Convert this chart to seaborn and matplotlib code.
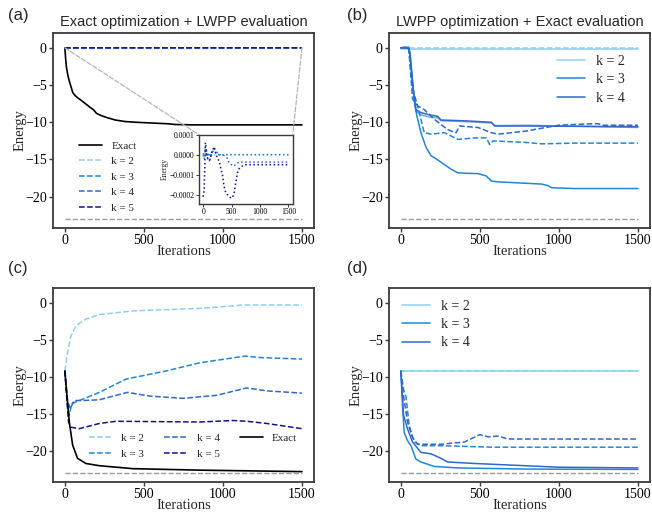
"""Energie-Verlauf: exakte vs. LWPP Optimierung/Evaluierung (vier Panels)."""
import numpy as np
import pandas as pd
import matplotlib
matplotlib.use("Agg")
import matplotlib.pyplot as plt
from matplotlib.patches import ConnectionPatch
from matplotlib.ticker import FuncFormatter
import seaborn as sns

# Farben pro k
C_K2 = "#8fd0f0"
C_K3 = "#1f88d6"
C_K4 = "#2f68cc"
C_K5 = "#14148c"
C_REF = "#9a9a9a"

E_GROUND = -23.0

# ---- Panel (a): exakte Optimierung + LWPP Evaluierung ----
a_it_exact = [0, 5, 10, 20, 30, 40, 50, 60, 80, 100, 130, 160, 180, 200, 230, 270,
              320, 380, 450, 550, 650, 700, 800, 1000, 1500]
a_exact = [0, -1.5, -2.6, -3.8, -4.6, -5.3, -6.0, -6.3, -6.7, -7.0, -7.5, -8.0, -8.3,
           -8.8, -9.1, -9.4, -9.7, -9.9, -10.0, -10.1, -10.2, -10.3, -10.35, -10.35, -10.35]

a_it = [0, 18, 40, 60, 80, 110, 125, 150, 193, 220, 250, 281, 310, 340, 369, 398,
        430, 457, 498, 515, 545, 574, 603, 633, 662, 750, 1000, 1500]
a_k2 = [-0.00001, 0.0, 0.0, 0.0, 0.0, 0.0, 0.0, 0.0, 0.0, 0.0, 0.0, 0.0, 0.0, 0.0,
        0.0, 0.0, 0.0, 0.0, 0.0, 0.0, 0.0, 0.0, 0.0, 0.0, 0.0, 0.0, 0.0, 0.0]
a_k3 = [0.0, -0.00002, 0.00001, 0.00002, -0.00001, 0.00001, -0.00001, 0.00001,
        0.00002, 0.00001, 0.0, 0.0, 0.0, 0.0, 0.0, 0.0, 0.0, 0.0, 0.0, 0.0, 0.0,
        0.0, 0.0, 0.0, 0.0, 0.0, 0.0, 0.0]
a_k4 = [0.0, 0.00001, 0.00003, 0.0, -0.00002, -0.00003, -0.00002, 0.00001, 0.00003,
        0.00002, 0.00001, 0.0, 0.0, 0.0, -0.000005, -0.00001, -0.00002, -0.00004,
        -0.00005, -0.000055, -0.000055, -0.00005, -0.000042, -0.000037, -0.000037,
        -0.000037, -0.000037, -0.000037]
a_k5 = [-0.00021, -0.00018, 0.00006, 0.00001, -0.00002, -0.00003, -0.00002, 0.00001,
        0.00004, 0.00001, -0.00002, -0.00003, -0.000067, -0.0001, -0.00016, -0.00019,
        -0.0002, -0.00021, -0.000217, -0.000215, -0.00019, -0.00014, -0.00009,
        -0.00007, -0.00006, -0.00005, -0.00005, -0.00005]

# ---- Panel (b): LWPP Optimierung + exakte Evaluierung ----
b_it_k2 = [0, 1500]
b_k2_solid = [-0.1, -0.1]
b_k2_dash = [0.0, 0.0]

b_it_k3s = [0, 30, 50, 60, 70, 85, 100, 127, 160, 191, 230, 270, 318, 361, 420, 488,
            540, 573, 615, 750, 891, 930, 955, 1100, 1500]
b_k3_solid = [0, 0, 0.1, -1.0, -3.5, -6.9, -9.0, -11.4, -13.4, -14.5, -15.0, -15.6,
              -16.3, -16.8, -16.85, -16.9, -17.2, -17.9, -18.0, -18.15, -18.3, -18.5,
              -18.8, -18.9, -18.9]

b_it_k4s = [0, 30, 53, 64, 74, 85, 95, 127, 180, 233, 254, 400, 573, 594, 800, 1500]
b_k4_solid = [0, 0.1, -0.2, -2.4, -4.7, -6.8, -8.3, -8.7, -9.0, -9.2, -9.7, -9.8,
              -10.0, -10.5, -10.5, -10.6]
b_k4_solid2 = [0, 0.1, -0.2, -2.4, -4.7, -6.8, -8.5, -9.0, -9.3, -9.4, -9.8, -9.9,
               -10.1, -10.45, -10.4, -10.7]

b_it_k3d = [0, 50, 74, 106, 148, 191, 276, 361, 467, 541, 562, 583, 785, 891, 1103, 1500]
b_k3_dash = [0, 0, -6.9, -7.8, -11.4, -11.6, -11.4, -12.3, -12.1, -12.1, -13.0, -12.5,
             -12.7, -12.9, -12.8, -12.8]
b_it_k4d = [0, 50, 74, 106, 148, 212, 297, 350, 371, 488, 573, 615, 785, 997, 1210,
            1252, 1273, 1500]
b_k4_dash = [0, 0, -5.5, -7.8, -8.3, -9.6, -11.0, -11.4, -10.5, -10.7, -11.4, -11.6,
             -11.2, -10.4, -10.2, -10.2, -10.4, -10.4]

# ---- Panel (c): LWPP Optimierung + LWPP Evaluierung ----
c_it_k2 = [0, 17, 38, 70, 133, 218, 430, 854, 1129, 1500]
c_k2 = [-9.2, -6.7, -4.5, -3.1, -2.2, -1.6, -1.1, -0.76, -0.3, -0.3]
c_it_k3 = [0, 17, 28, 44, 91, 218, 388, 642, 854, 1140, 1235, 1500]
c_k3 = [-9.2, -13.9, -15.2, -13.6, -13.2, -12.1, -10.3, -9.2, -8.1, -7.2, -7.4, -7.6]
c_it_k4 = [0, 17, 34, 59, 112, 218, 396, 536, 748, 960, 1150, 1278, 1500]
c_k4 = [-9.2, -13.2, -14.3, -13.2, -13.2, -13.1, -12.1, -12.6, -12.9, -12.5, -11.5,
        -11.9, -12.2]
c_it_k5 = [0, 23, 38, 91, 218, 324, 854, 1066, 1150, 1278, 1500]
c_k5 = [-9.2, -16.1, -16.8, -17.0, -16.3, -16.0, -16.1, -15.9, -16.0, -16.3, -17.0]
c_it_exact = [0, 13, 28, 49, 80, 133, 218, 430, 854, 1500]
c_exact = [-9.2, -12.5, -16.1, -19.2, -21.0, -21.7, -22.0, -22.4, -22.6, -22.8]

# ---- Panel (d) ----
d_it_k2 = [0, 1500]
d_k2 = [-9.2, -9.2]
d_it_k3s = [0, 11, 21, 42, 64, 95, 127, 212, 361, 785, 1500]
d_k3_solid = [-9.2, -13.9, -17.5, -18.6, -19.3, -21.1, -21.5, -22.1, -22.3, -22.45, -22.5]
d_it_k4s = [0, 17, 42, 74, 127, 191, 244, 297, 467, 785, 997, 1500]
d_k4_solid = [-9.2, -15.2, -17.0, -18.8, -20.2, -20.4, -20.9, -21.5, -21.7, -22.0, -22.2, -22.3]
d_it_k3d = [0, 17, 32, 53, 85, 127, 254, 573, 1500]
d_k3_dash = [-9.2, -11.7, -12.6, -16.6, -18.8, -19.3, -19.3, -19.5, -19.5]
d_it_k4d = [0, 11, 42, 74, 106, 254, 403, 499, 552, 615, 679, 1500]
d_k4_dash = [-9.2, -11.7, -16.1, -18.2, -19.1, -19.1, -18.8, -17.8, -18.1, -18.0, -18.4, -18.4]

ITER_RANGE = [0, 1500]

sns.set_style("ticks")
plt.rcParams["font.family"] = ["Liberation Serif", "DejaVu Serif"]
plt.rcParams["axes.unicode_minus"] = True
plt.rcParams["axes.edgecolor"] = "#3a3a3a"
plt.rcParams["axes.linewidth"] = 1.3
plt.rcParams["xtick.color"] = "#3a3a3a"
plt.rcParams["ytick.color"] = "#3a3a3a"
plt.rcParams["xtick.labelcolor"] = "black"
plt.rcParams["ytick.labelcolor"] = "black"

fig = plt.figure(figsize=(6.52, 5.12), dpi=100)
ax_a = fig.add_axes([0.0813, 0.5547, 0.400, 0.381])
ax_b = fig.add_axes([0.5966, 0.5547, 0.400, 0.381])
ax_c = fig.add_axes([0.0813, 0.0586, 0.400, 0.379])
ax_d = fig.add_axes([0.5966, 0.0586, 0.400, 0.379])


def line(ax, x, y, color, ls="-", label=None, lw=1.1, alpha=1.0):
    sns.lineplot(x=x, y=y, ax=ax, color=color, linestyle=ls, label=label,
                 linewidth=lw, alpha=alpha, legend=False, sort=False)


def ground(ax):
    line(ax, ITER_RANGE, [E_GROUND, E_GROUND], C_REF, "--", lw=1.0)


def style_axes(ax):
    ax.set_xlim(-75, 1575)
    ax.set_ylim(-24.2, 2)
    ax.set_xticks([0, 500, 1000, 1500])
    ax.set_yticks([0, -5, -10, -15, -20])
    ax.tick_params(labelsize=10, length=3, width=1.0, pad=1.5)
    ax.set_xlabel("Iterations", fontsize=10.5, labelpad=-1.5)
    ax.set_ylabel("Energy", fontsize=10.5, labelpad=-1)


# (a)
line(ax_a, a_it_exact, a_exact, "black", "-", "Exact", lw=1.2)
line(ax_a, a_it, a_k2, C_K2, "--", "k = 2")
line(ax_a, a_it, a_k3, C_K3, "--", "k = 3")
line(ax_a, a_it, a_k4, C_K4, "--", "k = 4")
line(ax_a, a_it, a_k5, C_K5, "--", "k = 5")
ground(ax_a)
style_axes(ax_a)
ax_a.set_title("Exact optimization + LWPP evaluation", fontsize=10.5,
               fontfamily="Liberation Sans", pad=5)
ax_a.legend(loc="upper left", bbox_to_anchor=(0.083, 0.47), borderaxespad=0,
            frameon=False, fontsize=8, handlelength=2.1, labelspacing=0.52)

axins = fig.add_axes([0.305, 0.602, 0.144, 0.135])
line(axins, a_it, a_k2, C_K2, ":", lw=1.1)
line(axins, a_it, a_k3, C_K3, ":", lw=1.1)
line(axins, a_it, a_k4, C_K4, ":", lw=1.1)
line(axins, a_it, a_k5, C_K5, ":", lw=1.1)
axins.set_xlim(-75, 1575)
axins.set_ylim(-0.000245, 0.0001)
axins.set_xticks([0, 500, 1000, 1500])
axins.set_yticks([0.0001, 0.0, -0.0001, -0.0002])
axins.yaxis.set_major_formatter(FuncFormatter(lambda v, p: f"{v:.4f}".replace("-", "\u2212")))
axins.tick_params(labelsize=5.5, length=2, width=0.7, pad=1)
axins.set_ylabel("Energy", fontsize=5.5, labelpad=1)
for sp in axins.spines.values():
    sp.set_linewidth(1.0)

for x_data, x_ins in [(ITER_RANGE[0], 0), (ITER_RANGE[1], 1)]:
    con = ConnectionPatch(xyA=(x_data, 0), coordsA=ax_a.transData,
                          xyB=(x_ins, 1), coordsB=axins.transAxes,
                          color="#b5b5b5", linestyle="--", linewidth=0.9)
    fig.add_artist(con)

# (b)
line(ax_b, b_it_k2, b_k2_dash, C_K2, "--")
line(ax_b, b_it_k2, b_k2_solid, C_K2, "-", "k = 2")
line(ax_b, b_it_k3s, b_k3_solid, C_K3, "-", "k = 3")
line(ax_b, b_it_k4s, b_k4_solid2, C_K4, "-", alpha=0.6)
line(ax_b, b_it_k4s, b_k4_solid, C_K4, "-", "k = 4")
line(ax_b, b_it_k3d, b_k3_dash, C_K3, "--")
line(ax_b, b_it_k4d, b_k4_dash, C_K4, "--")
ground(ax_b)
style_axes(ax_b)
ax_b.set_title("LWPP optimization + Exact evaluation", fontsize=10.5,
               fontfamily="Liberation Sans", pad=5)
ax_b.legend(loc="upper left", bbox_to_anchor=(0.624, 0.915), borderaxespad=0,
            frameon=False, fontsize=10, handlelength=2.0, labelspacing=0.38)

# (c)
line(ax_c, c_it_k2, c_k2, C_K2, "--", "k = 2")
line(ax_c, c_it_k3, c_k3, C_K3, "--", "k = 3")
line(ax_c, c_it_k4, c_k4, C_K4, "--", "k = 4")
line(ax_c, c_it_k5, c_k5, C_K5, "--", "k = 5")
line(ax_c, c_it_exact, c_exact, "black", "-", "Exact", lw=1.2)
ground(ax_c)
style_axes(ax_c)
ax_c.legend(loc="upper left", bbox_to_anchor=(0.122, 0.276), borderaxespad=0,
            frameon=False, ncol=3, fontsize=8, handlelength=2.1,
            labelspacing=0.55, columnspacing=1.8)

# (d)
line(ax_d, d_it_k2, d_k2, C_K2, "--")
line(ax_d, d_it_k2, d_k2, C_K2, "-", "k = 2")
line(ax_d, d_it_k3s, d_k3_solid, C_K3, "-", "k = 3")
line(ax_d, d_it_k4s, d_k4_solid, C_K4, "-", "k = 4")
line(ax_d, d_it_k3d, d_k3_dash, C_K3, "--")
line(ax_d, d_it_k4d, d_k4_dash, C_K4, "--")
ground(ax_d)
style_axes(ax_d)
ax_d.legend(loc="upper left", bbox_to_anchor=(0.029, 0.967), borderaxespad=0,
            frameon=False, fontsize=10, handlelength=2.0, labelspacing=0.38)

# Panel-Beschriftungen
for txt, x, y in [("(a)", 0.012, 0.970), ("(b)", 0.532, 0.970),
                  ("(c)", 0.012, 0.475), ("(d)", 0.532, 0.475)]:
    fig.text(x, y, txt, fontsize=12, fontfamily="Liberation Sans", va="center")

fig.savefig("out.png", dpi=100)
plt.close(fig)
